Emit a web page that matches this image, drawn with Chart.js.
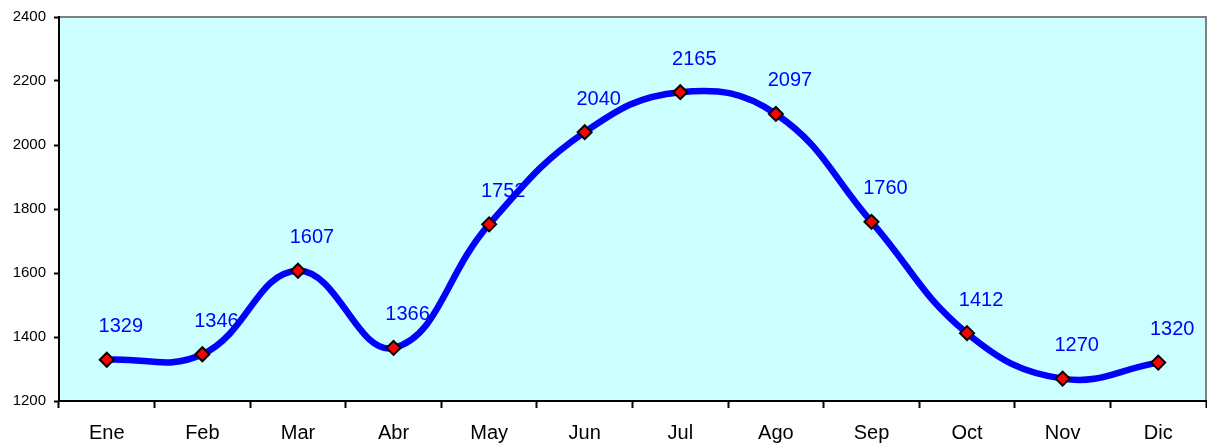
<!DOCTYPE html>
<html><head><meta charset="utf-8">
<script src="https://cdn.jsdelivr.net/npm/chart.js@4/dist/chart.umd.min.js"></script>
<style>html,body{margin:0;padding:0;background:#fff}#w{width:1207px;height:443px}</style>
</head><body><div id="w"><canvas id="c"></canvas></div>
<script>
const categories = ['Ene','Feb','Mar','Abr','May','Jun','Jul','Ago','Sep','Oct','Nov','Dic'];
const values = [1329,1346,1607,1366,1752,2040,2165,2097,1760,1412,1270,1320];
const yTicks = [1200,1400,1600,1800,2000,2200,2400];

const FONT = '"Liberation Sans", Arial, sans-serif';
const bgPlugin = {
  id:'bg',
  beforeDraw(ch){
    const {ctx, chartArea:a} = ch;
    ctx.save();
    ctx.fillStyle = '#CCFFFF';
    ctx.fillRect(a.left, a.top, a.right-a.left, a.bottom-a.top);
    ctx.strokeStyle = '#808080';
    ctx.lineWidth = 2;
    ctx.beginPath();
    ctx.moveTo(a.left, a.top); ctx.lineTo(a.right, a.top); ctx.lineTo(a.right, a.bottom);
    ctx.stroke();
    ctx.restore();
  }
};
const labelPlugin = {
  id:'lbl',
  afterDatasetsDraw(ch){
    const {ctx} = ch;
    const meta = ch.getDatasetMeta(0);
    ctx.save();
    ctx.font = '20px ' + FONT;
    ctx.fillStyle = '#0000FF';
    ctx.textAlign = 'center';
    ctx.textBaseline = 'middle';
    meta.data.forEach((p,i)=>{
      ctx.fillText(String(values[i]), p.x + 14, p.y - 33);
    });
    ctx.restore();
  }
};

new Chart(document.getElementById('c'), {
  type:'line',
  data:{labels:categories, datasets:[{
    data:values,
    borderColor:'#0000FF', borderWidth:6.5, tension:0.42,
    pointStyle:'rectRot', pointRadius:7, pointBackgroundColor:'#FF0000',
    pointBorderColor:'#000000', pointBorderWidth:2, fill:false
  }]},
  options:{
    responsive:true, maintainAspectRatio:false, animation:false,
    layout:{autoPadding:false, padding:{top:15,right:1,left:0,bottom:0}},
    plugins:{legend:{display:false}, tooltip:{enabled:false}},
    scales:{
      x:{
        offset:true,
        grid:{offset:true, drawOnChartArea:false, color:'#000', tickLength:7, tickWidth:2},
        border:{color:'#000', width:2},
        ticks:{color:'#000', font:{family:FONT, size:20}, padding:13, maxRotation:0},
        afterFit(s){ s.height = 42; }
      },
      y:{
        min:1200, max:2400,
        afterBuildTicks(s){ s.ticks = yTicks.map(v=>({value:v})); },
        grid:{drawOnChartArea:false, color:'#000', tickLength:5, tickWidth:2},
        border:{color:'#000', width:2},
        ticks:{color:'#000', font:{family:FONT, size:15}, padding:8, callback:v=>String(v)},
        afterFit(s){ s.width = 59; }
      }
    }
  },
  plugins:[bgPlugin, labelPlugin]
});
</script></body></html>
